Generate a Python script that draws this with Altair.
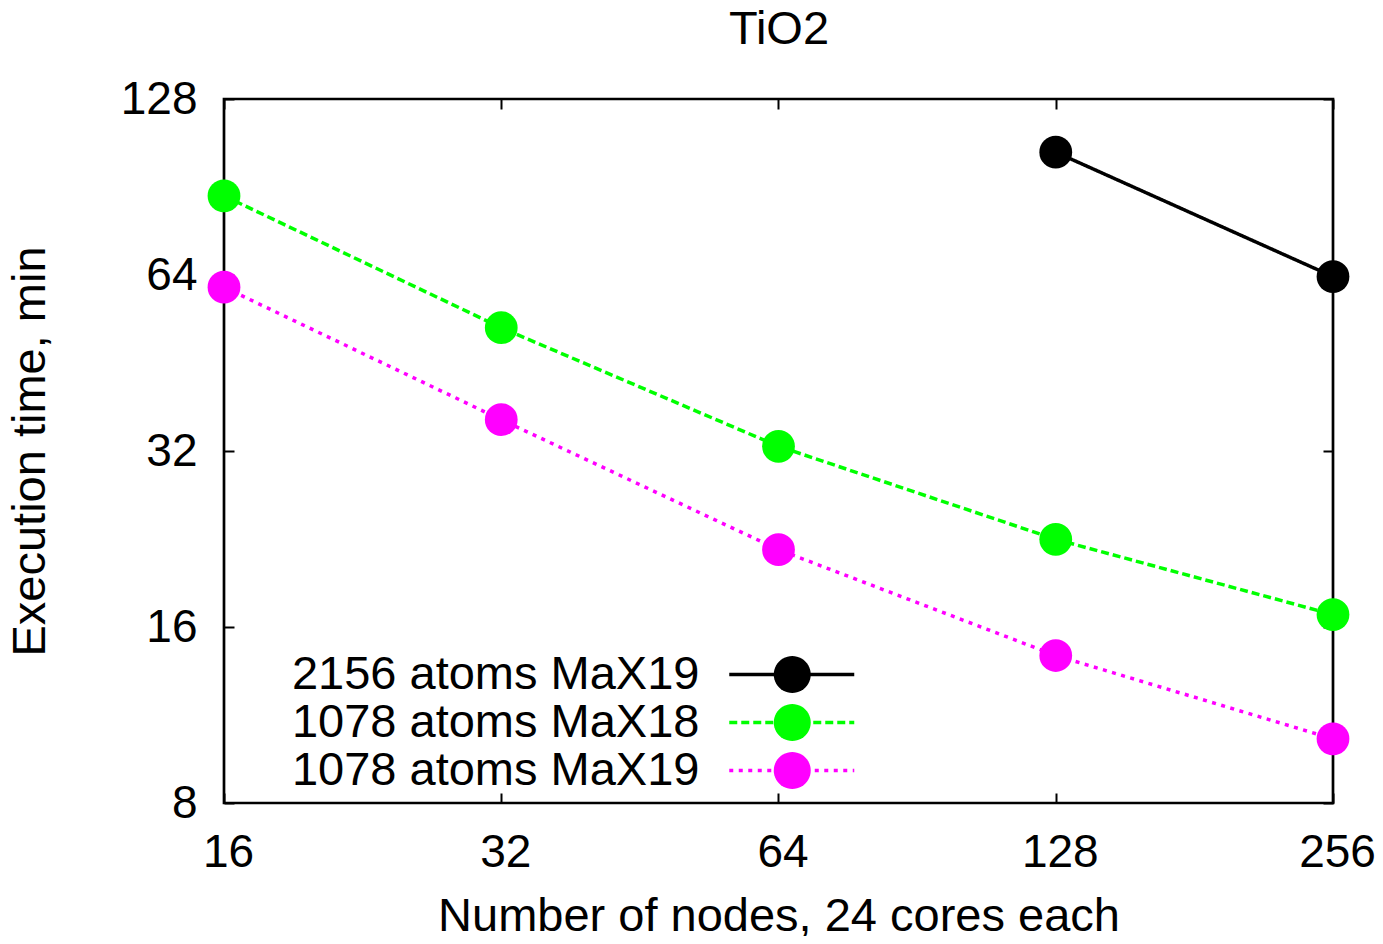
import math
import altair as alt
import pandas as pd

FONT = "Liberation Sans"

series_names = ["2156 atoms MaX19", "1078 atoms MaX18", "1078 atoms MaX19"]
series_codes = ["A", "B", "C"]
series_colors = ["#000000", "#00ff00", "#ff00ff"]
series_dashes = [[1, 0], [8, 4], [4, 5.5]]

nodes_2156_max19 = [128, 256]
time_2156_max19 = [103.8, 63.6]
nodes_1078_max18 = [16, 32, 64, 128, 256]
time_1078_max18 = [87.4, 52.0, 32.6, 22.6, 16.8]
nodes_1078_max19 = [16, 32, 64, 128, 256]
time_1078_max19 = [61.0, 36.2, 21.7, 14.3, 10.3]

x_ticks = [16, 32, 64, 128, 256]
y_ticks = [8, 16, 32, 64, 128]

rows = []
for name, code, xs, ys in [
    (series_names[0], series_codes[0], nodes_2156_max19, time_2156_max19),
    (series_names[1], series_codes[1], nodes_1078_max18, time_1078_max18),
    (series_names[2], series_codes[2], nodes_1078_max19, time_1078_max19),
]:
    for xv, yv in zip(xs, ys):
        rows.append({"series": name, "code": code, "nodes": xv, "time": yv})
df = pd.DataFrame(rows)

x_scale = alt.Scale(type="log", base=2, domain=[16, 256], nice=False)
y_scale = alt.Scale(type="log", base=2, domain=[8, 128], nice=False)

common_tick = dict(offset=-10, domain=False, ticks=True, tickSize=10, tickWidth=2,
                   tickColor="black", grid=False)

x_bottom = alt.Axis(orient="bottom", values=x_ticks, format="d", labelFontSize=46,
                    labelFont=FONT, labelColor="black", labelPadding=27, labelFlush=False,
                    labelOverlap=False, labelOffset=4,
                    title="Number of nodes, 24 cores each", titleFont=FONT, titleFontSize=47,
                    titleFontWeight="normal", titleColor="black", titleBaseline="alphabetic",
                    titleY=137, **common_tick)
x_top = alt.Axis(orient="top", values=x_ticks, labels=False,
                 title="TiO2", titleFont=FONT, titleFontSize=47, titleFontWeight="normal",
                 titleColor="black", titleBaseline="alphabetic", titleY=-66, **common_tick)
y_left = alt.Axis(orient="left", values=y_ticks, format="d", labelFontSize=46,
                  labelFont=FONT, labelColor="black", labelPadding=27, labelFlush=False,
                  labelOverlap=False,
                  title="Execution time, min", titleFont=FONT, titleFontSize=47,
                  titleFontWeight="normal", titleColor="black", titleBaseline="alphabetic",
                  titleAngle=270, titleAlign="center", titleX=-190, titleY=352, **common_tick)
y_right = alt.Axis(orient="right", values=y_ticks, labels=False, title=None, **common_tick)

# legend sample glyphs (label on the left, line + marker on the right, as in gnuplot keys)
LINE_PATH = "M2.477,0L8.291,0"
_cx, _r, _n = 5.407, 0.8605, 48
CIRCLE_PATH = "M" + "L".join(
    f"{_cx + _r * math.cos(2 * math.pi * i / _n):.4f},{_r * math.sin(2 * math.pi * i / _n):.4f}"
    for i in range(_n)
) + "Z"

legend_common = dict(orient="none", legendX=428.5, legendY=552, title=None, padding=0,
                     symbolSize=1849,
                     labelFont=FONT, labelFontSize=47, labelLimit=2000,
                     labelAlign="right", labelOffset=0, rowPadding=0)
line_legend = dict(symbolType=LINE_PATH, symbolStrokeWidth=3.5, labelColor="black",
                   zindex=1, **legend_common)
dot_legend = dict(symbolType=CIRCLE_PATH, symbolStrokeWidth=0, labelOpacity=0,
                  zindex=2, **legend_common)

lines = alt.Chart(df).mark_line(strokeWidth=3.5).encode(
    x=alt.X("nodes:Q", scale=x_scale, axis=x_bottom),
    y=alt.Y("time:Q", scale=y_scale, axis=y_left),
    stroke=alt.Stroke("series:N", scale=alt.Scale(domain=series_names, range=series_colors),
                      legend=alt.Legend(**line_legend)),
    strokeDash=alt.StrokeDash("series:N", scale=alt.Scale(domain=series_names, range=series_dashes),
                              legend=alt.Legend(**line_legend)),
)

points = alt.Chart(df).mark_circle(size=1075, opacity=1).encode(
    x=alt.X("nodes:Q", scale=x_scale, axis=x_top),
    y=alt.Y("time:Q", scale=y_scale, axis=y_right),
    fill=alt.Fill("code:N", scale=alt.Scale(domain=series_codes, range=series_colors),
                  legend=alt.Legend(**dot_legend)),
)

chart = alt.layer(lines, points).properties(
    width=1109,
    height=704,
    padding={"left": 216, "top": 91, "right": 42, "bottom": 133},
    autosize=alt.AutoSizeParams(type="none"),
).configure(font=FONT).configure_view(stroke="black", strokeWidth=2.7)

chart.save("out.html", embed_options={"renderer": "svg", "actions": False})
